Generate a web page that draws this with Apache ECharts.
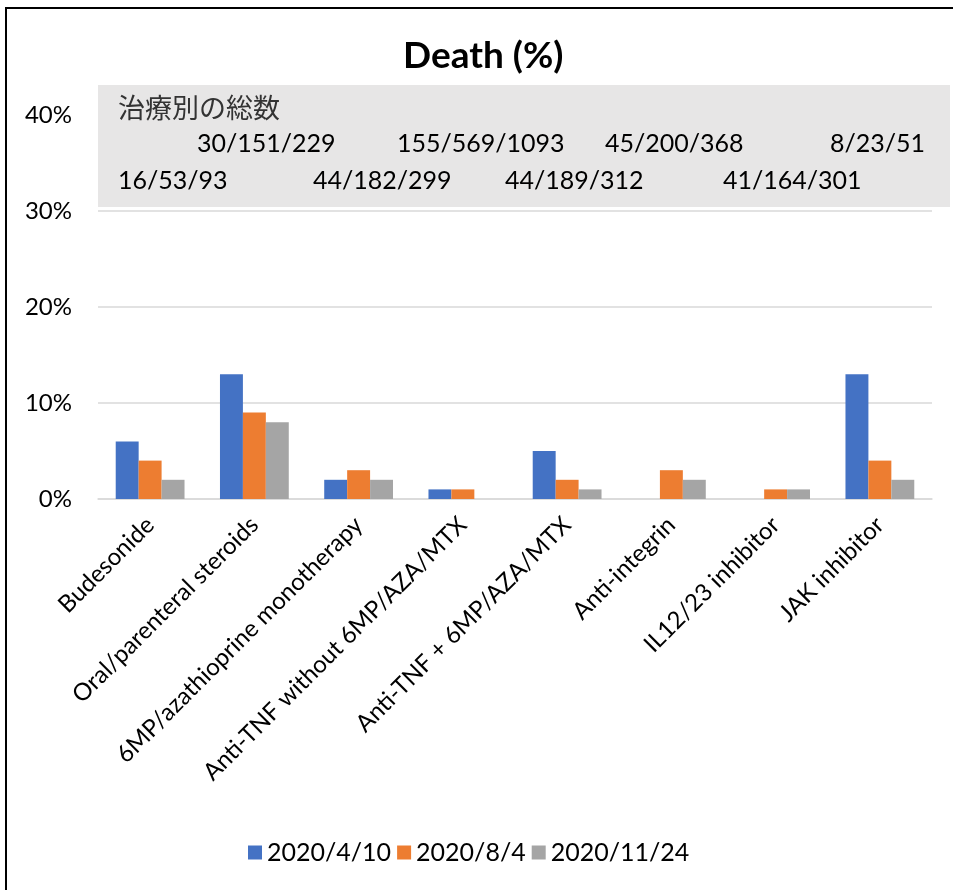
<!DOCTYPE html>
<html>
<head>
<meta charset="utf-8">
<script src="https://cdn.jsdelivr.net/npm/echarts@6/dist/echarts.min.js"></script>
<style>
html,body{margin:0;padding:0;background:#fff;}
#chart{width:953px;height:890px;}
</style>
</head>
<body>
<div id="chart"></div>
<script>
var categories = ['Budesonide','Oral/parenteral steroids','6MP/azathioprine monotherapy','Anti-TNF without 6MP/AZA/MTX','Anti-TNF + 6MP/AZA/MTX','Anti-integrin','IL12/23 inhibitor','JAK inhibitor'];
var seriesNames = ['2020/4/10','2020/8/4','2020/11/24'];
var deathApr = [6, 13, 2, 1, 5, 0, 0, 13];
var deathAug = [4, 9, 3, 1, 2, 3, 1, 4];
var deathNov = [2, 8, 2, 0, 1, 2, 1, 2];
var totalsTitle = '治療別の総数';
var totals = ['16/53/93','30/151/229','44/182/299','155/569/1093','44/189/312','45/200/368','41/164/301','8/23/51'];

var FONT = 'Lato, "Liberation Sans", sans-serif';
var colors = ['#4472C4','#ED7D31','#A5A5A5'];

// layout of annotation text (pixel positions)
var totalsX = [118, 197, 313, 397, 505, 605, 723, 830];
var rowY = [144, 181];

var graphics = [
  {type:'rect', z:0, shape:{x:6, y:8, width:1000, height:1000}, style:{fill:'none', stroke:'#000', lineWidth:2}},
  {type:'rect', z:10, shape:{x:98, y:85, width:852, height:122}, style:{fill:'#E7E6E6'}},
  {type:'text', z:11, x:118, y:108, style:{text: totalsTitle, font:'27px "Noto Sans CJK JP", sans-serif', fill:'#333', textVerticalAlign:'middle'}}
];
totals.forEach(function(t, i){
  graphics.push({type:'text', z:11, x: totalsX[i], y: rowY[i % 2 === 0 ? 1 : 0],
    style:{text:t, font:'25px ' + FONT, fill:'#000', textVerticalAlign:'middle'}});
});

var chart = echarts.init(document.getElementById('chart'), null, {renderer:'canvas'});
chart.setOption({
  animation:false,
  backgroundColor:'#fff',
  title:{text:'Death (%)', left:398, top:33, textStyle:{fontFamily:FONT, fontSize:37, fontWeight:'bold', color:'#000'}},
  color: colors,
  legend:{bottom:20, left:243, itemWidth:14, itemHeight:14, itemGap:6, icon:'rect',
    textStyle:{fontFamily:FONT, fontSize:25, color:'#000'}},
  grid:{left:98, right:21, top:115, bottom:391},
  xAxis:{type:'category', data:categories,
    axisLine:{lineStyle:{color:'#D9D9D9', width:1.5}},
    axisTick:{show:false},
    axisLabel:{rotate:45, interval:0, margin:22, fontFamily:FONT, fontSize:24, color:'#000'}},
  yAxis:{type:'value', min:0, max:40, interval:10,
    axisLine:{show:false}, axisTick:{show:false},
    splitLine:{lineStyle:{color:'#D9D9D9', width:1.5}},
    axisLabel:{formatter:'{value}%', margin:26, fontFamily:FONT, fontSize:24, color:'#000'}},
  series:[
    {name:seriesNames[0], type:'bar', data:deathApr, barWidth:'22%', barGap:'0%'},
    {name:seriesNames[1], type:'bar', data:deathAug, barWidth:'22%', barGap:'0%'},
    {name:seriesNames[2], type:'bar', data:deathNov, barWidth:'22%', barGap:'0%'}
  ],
  graphic: graphics
});
</script>
</body>
</html>
